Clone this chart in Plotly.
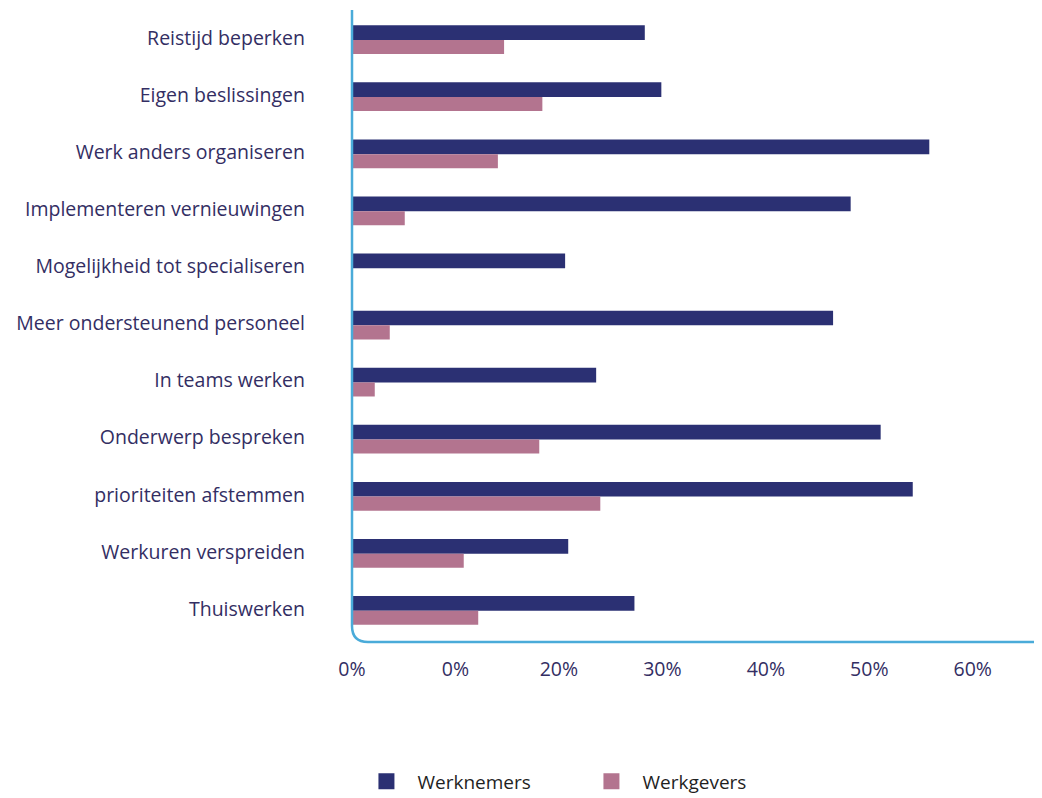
import plotly.graph_objects as go

# ---------------------------------------------------------------------------
# Data
# ---------------------------------------------------------------------------

categories = [
    "Reistijd beperken",
    "Eigen beslissingen",
    "Werk anders organiseren",
    "Implementeren vernieuwingen",
    "Mogelijkheid tot specialiseren",
    "Meer ondersteunend personeel",
    "In teams werken",
    "Onderwerp bespreken",
    "prioriteiten afstemmen",
    "Werkuren verspreiden",
    "Thuiswerken",
]
werknemers = [28.3, 29.9, 55.8, 48.2, 20.6, 46.5, 23.6, 51.1, 54.2, 20.9, 27.3]
werkgevers = [14.7, 18.4, 14.1, 5.1, 0.0, 3.65, 2.2, 18.1, 24.0, 10.8, 12.2]

tick_vals = [0, 10, 20, 30, 40, 50, 60]
tick_text = ["0%", "0%", "20%", "30%", "40%", "50%", "60%"]  # as in the source

NAVY = "#2b3073"
MAUVE = "#b3748f"
AXIS_BLUE = "#4aabd9"
LABEL = "#332e63"
FONT = "'Open Sans', Lato, sans-serif"

# ---------------------------------------------------------------------------
# Figure
# ---------------------------------------------------------------------------

fig = go.Figure()
fig.add_trace(go.Bar(
    y=categories, x=werknemers, orientation="h", name="Werknemers",
    marker=dict(color=NAVY, line=dict(width=0)),
    offset=-0.225, width=0.258, showlegend=False,
))
fig.add_trace(go.Bar(
    y=categories, x=werkgevers, orientation="h", name="Werkgevers",
    marker=dict(color=MAUVE, line=dict(width=0)),
    offset=0.033, width=0.246, showlegend=False,
))

# legend entries with bigger square swatches
for name, color in [("Werknemers", NAVY), ("Werkgevers", MAUVE)]:
    fig.add_trace(go.Scatter(
        x=[None], y=[None], mode="markers", name=name,
        marker=dict(symbol="square", size=17, color=color),
    ))

# axis line with rounded corner (plot area is about 688 x 632 px)
rx, ry = 16 / 688, 16 / 632
fig.add_shape(
    type="path", xref="paper", yref="paper",
    path=f"M 0,1 L 0,{ry} Q 0,0 {rx},0 L 1,0",
    line=dict(color=AXIS_BLUE, width=2.5),
)

fig.update_layout(
    width=1034, height=790,
    margin=dict(l=344, r=2, t=2, b=156),
    plot_bgcolor="white", paper_bgcolor="white",
    barmode="overlay",
    font=dict(family=FONT, size=19, color=LABEL),
    legend=dict(
        orientation="h", x=0.005, xanchor="left",
        yref="container", y=0.021, yanchor="middle",
        font=dict(size=19, color="#1f1f1f"),
        entrywidth=158, entrywidthmode="pixels", itemwidth=52,
    ),
    xaxis=dict(
        range=[0, 66.5], tickvals=tick_vals, ticktext=tick_text,
        showgrid=False, zeroline=False, showline=False,
        ticks="", ticklabelstandoff=13,
        tickfont=dict(size=19.5, color=LABEL),
    ),
    yaxis=dict(
        categoryorder="array", categoryarray=categories,
        range=[10.58, -0.492],
        showgrid=False, zeroline=False, showline=False,
        ticks="", ticklabelstandoff=46,
        tickfont=dict(size=19.5, color=LABEL),
    ),
)

fig.write_html("out.html")
